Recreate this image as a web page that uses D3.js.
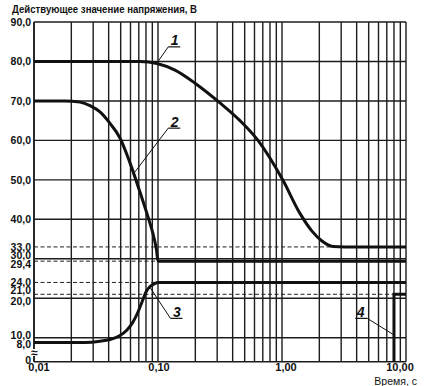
<!DOCTYPE html>
<html>
<head>
<meta charset="utf-8">
<script src="https://cdn.jsdelivr.net/npm/d3@7"></script>
<style>
  body { margin: 0; background: #fff; }
  svg text { font-family: "Liberation Sans", Arial, sans-serif; fill: #111; }
</style>
</head>
<body>
<div id="chart"></div>
<script>
// time (s) and voltage (V)
const curve1T = [0.01, 0.0716, 0.0982, 0.1371, 0.1988, 0.3162, 0.4584, 0.6401, 1.013, 1.396, 1.745, 2.10, 2.578, 3.22, 10]
const curve1V = [80, 80, 79.5, 77.8, 74.5, 69.5, 65, 60, 50, 41.5, 37, 34.5, 33.1, 33, 33]
const curve2T = [0.01, 0.01778, 0.02349, 0.02829, 0.03406, 0.041, 0.04937, 0.05944, 0.07156, 0.08307, 0.09118, 0.09726, 0.1, 10]
const curve2V = [70, 70, 69.7, 68.8, 67.2, 64.3, 60.6, 54.3, 46.9, 40.6, 36.3, 32.2, 29.4, 29.4]
const curve3T = [0.01, 0.02578, 0.03406, 0.041, 0.04937, 0.05623, 0.06287, 0.06898, 0.07431, 0.08001, 0.08616, 0.09283, 0.1, 10]
const curve3V = [8, 8, 8.5, 9.25, 10.56, 11.95, 13.98, 16.51, 19.05, 21.58, 22.97, 23.61, 24, 24]
const curve4T = [8, 8, 10]
const curve4V = [0, 21, 21]

const yTicks = [0, 8, 10, 20, 21, 24, 29.4, 30, 33, 40, 50, 60, 70, 80, 90]
const ySolid = [10, 20, 30, 40, 50, 60, 70, 80, 90]
const yDashed = [21, 24, 29.4, 33]
const xLabels = [0.01, 0.1, 1, 10]

// curve numbers: point on the curve and the elbow of the leader
const callouts = [
    {name: "1", t: 0.098, v: 79.6, et: 0.121, ev: 83.7, side: 1},
    {name: "2", t: 0.063, v: 51.4, et: 0.121, ev: 63.1, side: 1},
    {name: "3", t: 0.086, v: 22.8, et: 0.126, ev: 14.9, side: 1},
    {name: "4", t: 8, v: 10.7, et: 4.87, ev: 14.9, side: -1}
]

const fmtX = d => d.toFixed(2).replace(".", ",")
const fmtY = d => d === 0 ? "0" : d.toFixed(1).replace(".", ",")

const W = 425, H = 386
const mLeft = 34, mRight = 406, mTop = 22, mBottom = 361.7

const x = d3.scaleLog().domain([0.01, 10]).range([mLeft, mRight])
// axis break under 10 V: lower part is squeezed
const y = d3.scaleLinear().domain([0, 10, 90]).range([mBottom, 337.7, mTop])

const svg = d3.select("#chart").append("svg")
    .attr("width", W)
    .attr("height", H)

// vertical grid
svg.append("g")
    .selectAll("line")
    .data(x.ticks())
    .enter()
    .append("line")
    .attr("x1", d => x(d)).attr("x2", d => x(d))
    .attr("y1", mTop).attr("y2", mBottom)
    .attr("stroke", "#1c1c1c")
    .attr("stroke-width", 1.4)

// horizontal grid
svg.append("g")
    .selectAll("line")
    .data(ySolid)
    .enter()
    .append("line")
    .attr("x1", mLeft).attr("x2", mRight)
    .attr("y1", d => y(d)).attr("y2", d => y(d))
    .attr("stroke", "#1c1c1c")
    .attr("stroke-width", 1.4)

svg.append("g")
    .selectAll("line")
    .data(yDashed)
    .enter()
    .append("line")
    .attr("x1", mLeft).attr("x2", mRight)
    .attr("y1", d => y(d)).attr("y2", d => y(d))
    .attr("stroke", "#222")
    .attr("stroke-width", 1)
    .attr("stroke-dasharray", "4,2.5")

// frame
svg.append("line")
    .attr("x1", mLeft).attr("x2", mRight)
    .attr("y1", mBottom).attr("y2", mBottom)
    .attr("stroke", "#1c1c1c").attr("stroke-width", 1.6)
svg.append("line")
    .attr("x1", mLeft).attr("x2", mLeft)
    .attr("y1", mTop).attr("y2", mBottom)
    .attr("stroke", "#1c1c1c").attr("stroke-width", 1.6)

// curves
const line = d3.line()
    .x(d => x(d[0]))
    .y(d => y(d[1]))
    .curve(d3.curveMonotoneX)

const series = [
    d3.zip(curve1T, curve1V),
    d3.zip(curve2T, curve2V),
    d3.zip(curve3T, curve3V)
]
svg.append("g")
    .selectAll("path")
    .data(series)
    .enter()
    .append("path")
    .attr("d", line)
    .attr("fill", "none")
    .attr("stroke", "#111")
    .attr("stroke-width", 3)
    .attr("stroke-linejoin", "round")

svg.append("path")
    .attr("d", d3.line().x(d => x(d[0])).y(d => y(d[1]))(d3.zip(curve4T, curve4V)))
    .attr("fill", "none")
    .attr("stroke", "#111")
    .attr("stroke-width", 3)

// axis break mark
svg.append("rect")
    .attr("x", mLeft - 4).attr("y", 349)
    .attr("width", 8).attr("height", 7)
    .attr("fill", "#fff")
svg.append("text")
    .attr("x", mLeft + 0.5).attr("y", 357)
    .attr("text-anchor", "middle")
    .style("font-size", "12px")
    .style("font-weight", "bold")
    .text("≈")

// y labels, nudged where they crowd each other
const yNudge = {30: -4, 29.4: 3, 21: -4, 20: 3, 10: -2, 8: 1.5, 0: -1.5}
svg.append("g")
    .selectAll("text")
    .data(yTicks)
    .enter()
    .append("text")
    .attr("x", 31)
    .attr("y", d => y(d) + (yNudge[d] || 0))
    .attr("dy", "0.36em")
    .attr("text-anchor", "end")
    .style("font-size", "10.5px")
    .style("font-weight", "bold")
    .text(fmtY)

// x labels
const xNudge = {0.01: 5, 0.1: 1, 1: 4, 10: -6}
svg.append("g")
    .selectAll("text")
    .data(xLabels)
    .enter()
    .append("text")
    .attr("x", d => x(d) + xNudge[d])
    .attr("y", 371)
    .attr("text-anchor", "middle")
    .style("font-size", "11px")
    .style("font-weight", "bold")
    .text(fmtX)

svg.append("text")
    .attr("x", 417).attr("y", 385)
    .attr("text-anchor", "end")
    .style("font-size", "10.5px")
    .text("Время, с")

svg.append("text")
    .attr("x", 12).attr("y", 13)
    .attr("textLength", 185)
    .attr("lengthAdjust", "spacingAndGlyphs")
    .style("font-size", "10.5px")
    .style("font-weight", "bold")
    .text("Действующее значение напряжения, В")

// curve numbers
const co = svg.append("g").selectAll("g")
    .data(callouts)
    .enter()
    .append("g")
co.append("line")
    .attr("x1", d => x(d.t)).attr("y1", d => y(d.v))
    .attr("x2", d => x(d.et)).attr("y2", d => y(d.ev))
    .attr("stroke", "#111").attr("stroke-width", 1)
co.append("line")
    .attr("x1", d => x(d.et)).attr("y1", d => y(d.ev))
    .attr("x2", d => x(d.et) + 12 * d.side).attr("y2", d => y(d.ev))
    .attr("stroke", "#111").attr("stroke-width", 1.2)
co.append("text")
    .attr("x", d => x(d.et) + 6.5 * d.side)
    .attr("y", d => y(d.ev) - 1.5)
    .attr("text-anchor", "middle")
    .style("font-size", "14px")
    .style("font-weight", "bold")
    .style("font-style", "italic")
    .text(d => d.name)
</script>
</body>
</html>
